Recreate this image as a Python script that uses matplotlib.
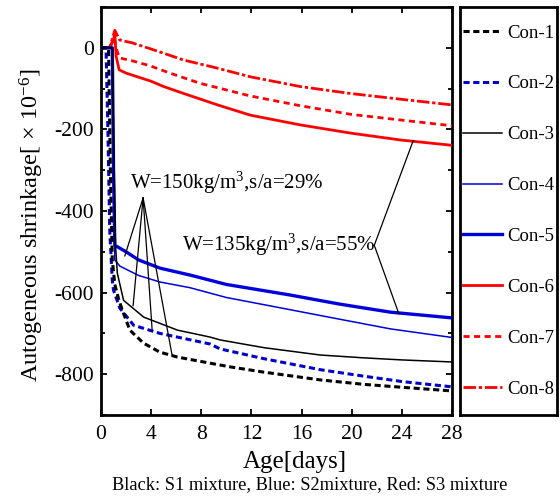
import matplotlib
matplotlib.use("Agg")
import matplotlib.pyplot as plt
from matplotlib.ticker import MultipleLocator

plt.rcParams['font.family'] = ['Liberation Serif', 'DejaVu Serif']
plt.rcParams['mathtext.fontset'] = 'custom'
plt.rcParams['mathtext.rm'] = 'Liberation Serif'
plt.rcParams['mathtext.it'] = 'Liberation Serif:italic'
plt.rcParams['axes.unicode_minus'] = False

# ---- data (age in days, shrinkage x10^-6) ----
d1 = [0, 0.6, 0.75, 0.9, 1.1, 1.4, 1.7, 2.3, 3.4, 4.7, 6.1, 8.7, 10.3, 13, 17.5, 21, 24, 28]
v1 = [0, 0, -300, -520, -580, -615, -643, -692, -724, -746, -758, -773, -782, -795, -814, -825, -832, -841]

d2 = [0, 0.4, 0.55, 0.7, 0.9, 1.0, 1.5, 2.6, 4.7, 8.7, 9.5, 13, 17.5, 21, 24, 28]
v2 = [0, 0, -200, -450, -570, -594, -638, -680, -700, -726, -738, -762, -789, -805, -818, -831]

d3 = [0, 0.9, 1.05, 1.15, 1.3, 1.8, 3.4, 6.1, 8.7, 9.5, 13, 17.5, 21, 24, 28]
v3 = [0, 0, -300, -480, -552, -619, -660, -692, -709, -716, -735, -753, -760, -765, -770]

d4 = [0, 0.9, 1.0, 1.1, 1.5, 3, 4.7, 7.1, 10, 15.1, 19, 23.1, 28]
v4 = [0, 0, -300, -520, -535, -558, -574, -588, -612, -642, -665, -689, -710]

d5 = [0, 0.9, 1.0, 1.1, 2, 3, 4.7, 7.1, 10, 15.1, 19, 23.1, 28]
v5 = [0, 0, -300, -484, -500, -520, -540, -557, -580, -606, -628, -648, -662]

d6 = [0, 0.7, 1.0, 1.1, 1.2, 1.45, 2, 3, 4, 5, 6.6, 9.3, 11.9, 15.9, 19.9, 23.9, 28]
v6 = [0, 0, 20, 35, -20, -54, -62, -72, -82, -95, -112, -140, -165, -189, -209, -226, -239]

d7 = [0, 0.7, 1.05, 1.3, 1.5, 2.5, 3.9, 5.5, 7.9, 11.9, 15.9, 19.9, 23.9, 28]
v7 = [0, 0, 25, -10, -25, -32, -44, -62, -87, -118, -142, -163, -177, -191]

d8 = [0, 0.7, 1.1, 1.5, 2.5, 3.9, 6.6, 9.3, 11.9, 15.9, 19.9, 23.9, 28]
v8 = [0, 0, 43, 19, 12, -2, -30, -50, -71, -95, -112, -126, -140]

labels = ['Con-1', 'Con-2', 'Con-3', 'Con-4', 'Con-5', 'Con-6', 'Con-7', 'Con-8']

fig = plt.figure(figsize=(5.6, 4.97), dpi=100)
ax = fig.add_axes([101/560, 1-415/497, 351/560, 408/497])

styles = [
    dict(color='black', lw=2.2, ls=(0, (2.0, 1.2))),
    dict(color='#0000cc', lw=2.2, ls=(0, (2.0, 1.2))),
    dict(color='black', lw=1.1, ls='-'),
    dict(color='#0000dd', lw=1.1, ls='-'),
    dict(color='#0000dd', lw=2.4, ls='-'),
    dict(color='#ff0000', lw=2.0, ls='-'),
    dict(color='#ff0000', lw=2.0, ls=(0, (2.2, 1.6))),
    dict(color='#ff0000', lw=2.0, ls=(0, (4.5, 1.0, 1.2, 1.0))),
]
data = [(d1, v1), (d2, v2), (d3, v3), (d4, v4), (d5, v5), (d6, v6), (d7, v7), (d8, v8)]
lines = {}
for i in [7, 6, 5, 4, 3, 2, 1, 0]:
    d, v = data[i]
    ln, = ax.plot(d, v, **styles[i], label=labels[i], zorder=3 + (8 - i) * 0.1)
    lines[i] = ln
handles = [lines[i] for i in range(8)]

ax.set_xlim(0, 28)
ax.set_ylim(-900, 100)
ax.xaxis.set_major_locator(MultipleLocator(4))
ax.yaxis.set_major_locator(MultipleLocator(200))
ax.yaxis.set_minor_locator(MultipleLocator(100))
ax.tick_params(which='both', direction='in', top=True, right=True, width=1.3)
ax.tick_params(which='major', length=4, labelsize=15.5, pad=5)
ax.tick_params(axis='x', which='major', pad=7)
ax.tick_params(which='minor', length=3)
for s in ax.spines.values():
    s.set_linewidth(2.0)

ax.set_xlabel('Age[days]', fontsize=18)
ax.xaxis.set_label_coords(0.553, -0.088)
ax.set_ylabel('Autogeneous shrinkage[ × 10$^{\\mathregular{-6}}$]', fontsize=17.5)
ax.yaxis.set_label_coords(-0.157, 0.466)

# annotations
ax.text(2.3, -330, 'W=150kg/m$^3$,s/a=29%', fontsize=15, va='center', ha='left')
ax.text(6.5, -484, 'W=135kg/m$^3$,s/a=55%', fontsize=15, va='center', ha='left')
apex1 = (3.36, -368)
for tgt in [(1.9, -510), (2.56, -632), (4.08, -692), (5.68, -755)]:
    ax.plot([apex1[0], tgt[0]], [apex1[1], tgt[1]], color='black', lw=0.9, zorder=5)
apex2 = (21.8, -484)
for tgt in [(24.9, -228), (23.76, -652)]:
    ax.plot([apex2[0], tgt[0]], [apex2[1], tgt[1]], color='black', lw=0.9, zorder=5)

# legend box
lax = fig.add_axes([460/560, 1-415/497, 97/560, 408/497])
lax.set_xticks([])
lax.set_yticks([])
for s in lax.spines.values():
    s.set_linewidth(2.0)
lax.legend(handles, labels, loc='center', frameon=False, fontsize=13.5,
           handlelength=2.1, handletextpad=0.3, labelspacing=1.80,
           borderaxespad=0.0)

fig.text(310/560, 1-485/497, 'Black: S1 mixture, Blue: S2mixture, Red: S3 mixture',
         fontsize=13.2, ha='center', va='center')

fig.savefig('out.png', dpi=100)
